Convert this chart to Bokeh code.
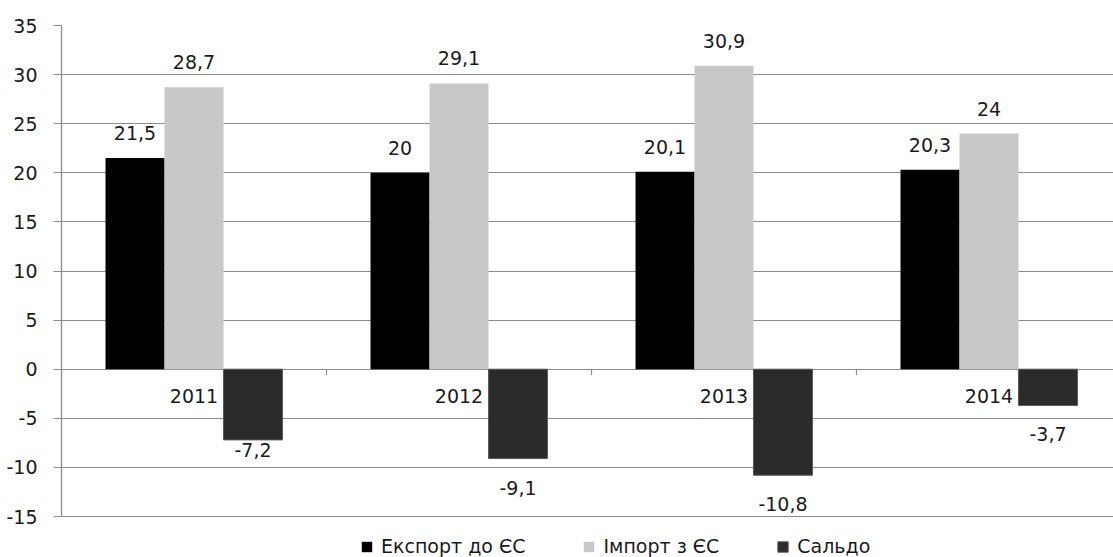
from bokeh.plotting import figure
from bokeh.models import Range1d, FixedTicker, ColumnDataSource, Legend, LegendItem
from bokeh.core.properties import value
from bokeh.embed import file_html
from bokeh.resources import INLINE

# ---- data ----
years = ["2011", "2012", "2013", "2014"]
export_eu = [21.5, 20.0, 20.1, 20.3]
import_eu = [28.7, 29.1, 30.9, 24.0]
saldo = [-7.2, -9.1, -10.8, -3.7]
series_names = ["Експорт до ЄС", "Імпорт з ЄС", "Сальдо"]
y_ticks = [-15, -10, -5, 0, 5, 10, 15, 20, 25, 30, 35]

# ---- style ----
FONT = "DejaVu Sans"
FS = "19px"
TXT = "#1a1a1a"
GRID = "#8c8c8c"
COLORS = ["#000000", "#c8c8c8", "#2b2b2b"]
BW = 0.2226            # bar width in category units
PX_PER_UNIT = 9.82
CAT_PX = 265.0
neg_label_gap = [10, 29, 29, 28]   # px below negative bars (label centre)


def fmt(v):
    return f"{v:g}".replace(".", ",")


W, H = 1113, 557
LEFT, TOP = 61, 25
frame_w = W - LEFT
frame_h = H - TOP
y_top = 35
y_bottom = y_top - frame_h / PX_PER_UNIT

p = figure(width=W, height=H,
           x_range=Range1d(0, frame_w / CAT_PX),
           y_range=Range1d(y_bottom, y_top),
           output_backend="svg", toolbar_location=None,
           x_axis_location=None,
           min_border_left=LEFT, min_border_right=0,
           min_border_top=TOP, min_border_bottom=0)
p.outline_line_color = None
p.background_fill_color = "white"
p.border_fill_color = "white"

# y axis
yax = p.yaxis[0]
yax.ticker = FixedTicker(ticks=y_ticks)
yax.major_label_overrides = {t: str(t) for t in y_ticks}
yax.bounds = (y_ticks[0], y_ticks[-1])
yax.axis_line_color = GRID
yax.axis_line_width = 1.3
yax.major_tick_line_color = GRID
yax.major_tick_out = 8
yax.major_tick_in = 0
yax.minor_tick_line_color = None
yax.major_label_standoff = 16
yax.major_label_text_font = FONT
yax.major_label_text_font_size = FS
yax.major_label_text_color = TXT

p.ygrid.ticker = FixedTicker(ticks=y_ticks)
p.ygrid.grid_line_color = GRID
p.ygrid.grid_line_width = 1.2
p.xgrid.visible = False

n = len(years)
centers = [i + 0.5 for i in range(n)]

# small ticks on zero line between categories
bx = [float(i) for i in range(1, n)]
p.segment(x0=bx, y0=[0] * len(bx), x1=bx, y1=[-0.6] * len(bx),
          line_color=GRID, line_width=1.2)

# category labels at the zero line
p.text(x=centers, y=[0] * n, text=years, text_align="center",
       text_baseline="middle", y_offset=27,
       text_font=value(FONT), text_font_size=FS, text_color=TXT)

series = [export_eu, import_eu, saldo]
offsets = [-BW, 0.0, BW]
renderers = []
for k, (vals, off, col) in enumerate(zip(series, offsets, COLORS)):
    xs = [c + off for c in centers]
    r = p.vbar(x=xs, top=vals, bottom=0, width=BW, fill_color=col,
               line_color="#5a5a5a" if k == 2 else None,
               line_width=1)
    renderers.append(r)
    if k < 2:
        src = ColumnDataSource(dict(x=xs, y=vals, t=[fmt(v) for v in vals]))
        p.text(x="x", y="y", text="t", source=src, text_align="center",
               text_baseline="middle", y_offset=-25,
               text_font=value(FONT), text_font_size=FS, text_color=TXT)
    else:
        src = ColumnDataSource(dict(x=xs, y=vals, t=[fmt(v) for v in vals],
                                    dy=neg_label_gap))
        p.text(x="x", y="y", text="t", source=src, text_align="center",
               text_baseline="middle", y_offset="dy",
               text_font=value(FONT), text_font_size=FS, text_color=TXT)

legend = Legend(items=[LegendItem(label=nm, renderers=[r])
                       for nm, r in zip(series_names, renderers)],
                orientation="horizontal", location=(299, 0),
                glyph_width=13, glyph_height=13, label_standoff=8,
                spacing=57, padding=0, margin=0,
                border_line_color=None, background_fill_alpha=0,
                label_text_font=FONT, label_text_font_size=FS,
                label_text_color=TXT, label_height=20)
p.add_layout(legend)

open("out.html", "w").write(file_html(p, INLINE))
